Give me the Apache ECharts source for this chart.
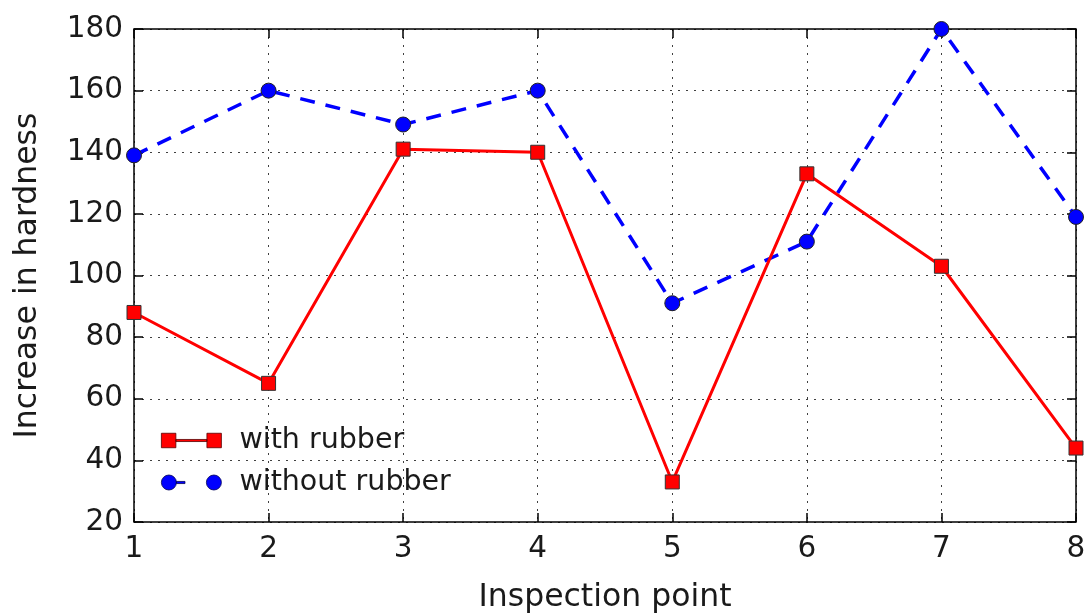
<!DOCTYPE html>
<html><head><meta charset="utf-8">
<script src="https://cdn.jsdelivr.net/npm/echarts@6/dist/echarts.min.js"></script>
<style>html,body{margin:0;padding:0;background:#fff}#c{width:1084px;height:615px}</style>
</head><body><div id="c"></div>
<script>
const points = [1, 2, 3, 4, 5, 6, 7, 8];
const withRubber = [88, 65, 141, 140, 33, 133, 103, 44];
const withoutRubber = [139, 160, 149, 160, 91, 111, 180, 119];
const seriesNames = ['with rubber', 'without rubber'];
const xTitle = 'Inspection point';
const yTitle = 'Increase in hardness';

const F = 'DejaVu Sans';
const chart = echarts.init(document.getElementById('c'), null, {renderer: 'canvas'});
const pair = arr => points.map((p, i) => [p, arr[i]]);
const gridLine = {show: true, lineStyle: {color: '#000', type: [2, 6], width: 1, opacity: 0.75}};
chart.setOption({
  animation: false,
  backgroundColor: '#fff',
  grid: {left: 134, top: 29, right: 8, bottom: 93, containLabel: false, outerBoundsMode: 'none',
         show: true, borderColor: '#000', borderWidth: 1.5, backgroundColor: 'transparent'},
  legend: {
    orient: 'vertical', left: 156, top: 421, itemGap: 13, itemWidth: 60, itemHeight: 16,
    textStyle: {fontFamily: F, fontSize: 28.5, color: '#1a1a1a', padding: [0, 0, 0, 13]},
    data: [
      {name: seriesNames[0], icon: 'path://M1,1h14v14h-14z M15,7h30v2h-30z M45,1h14v14h-14z',
       itemStyle: {borderColor: '#500', borderWidth: 0.8}},
      {name: seriesNames[1], icon: 'path://M1,8a7,7 0 1,0 14,0a7,7 0 1,0 -14,0z M15,7h8v2h-8z M43,8a7,7 0 1,0 14,0a7,7 0 1,0 -14,0z',
       itemStyle: {borderColor: '#005', borderWidth: 0.8}}
    ]
  },
  xAxis: [{
    type: 'value', min: 1, max: 8, interval: 1,
    name: xTitle, nameLocation: 'middle', nameGap: 60,
    nameTextStyle: {fontFamily: F, fontSize: 31.5, color: '#1a1a1a'},
    axisLine: {show: false},
    axisTick: {show: true, inside: true, length: 9, lineStyle: {color: '#000', width: 1.5}},
    axisLabel: {fontFamily: F, fontSize: 29.5, color: '#1a1a1a', margin: 12},
    splitLine: gridLine
  }, {
    type: 'value', min: 1, max: 8, interval: 1, position: 'top',
    axisLine: {show: false}, axisLabel: {show: false}, splitLine: {show: false},
    axisTick: {show: true, inside: true, length: 9, lineStyle: {color: '#000', width: 1.5}}
  }],
  yAxis: [{
    type: 'value', min: 20, max: 180, interval: 20,
    name: yTitle, nameLocation: 'middle', nameGap: 90, nameRotate: 90,
    nameTextStyle: {fontFamily: F, fontSize: 31.5, color: '#1a1a1a'},
    axisLine: {show: false},
    axisTick: {show: true, inside: true, length: 9, lineStyle: {color: '#000', width: 1.5}},
    axisLabel: {fontFamily: F, fontSize: 29.5, color: '#1a1a1a', margin: 11},
    splitLine: gridLine
  }, {
    type: 'value', min: 20, max: 180, interval: 20, position: 'right',
    axisLine: {show: false}, axisLabel: {show: false}, splitLine: {show: false},
    axisTick: {show: true, inside: true, length: 9, lineStyle: {color: '#000', width: 1.5}}
  }],
  series: [{
    name: seriesNames[0], type: 'line', data: pair(withRubber),
    symbol: 'rect', symbolSize: 14, clip: true, z: 3,
    lineStyle: {color: '#ff0000', width: 3},
    itemStyle: {color: '#ff0000', borderColor: '#333', borderWidth: 1}
  }, {
    name: seriesNames[1], type: 'line', data: pair(withoutRubber),
    symbol: 'circle', symbolSize: 15, clip: true, z: 2,
    lineStyle: {color: '#0000ff', width: 3.5, type: [15, 11]},
    itemStyle: {color: '#0000ff', borderColor: '#222', borderWidth: 1}
  }]
});
</script></body></html>
